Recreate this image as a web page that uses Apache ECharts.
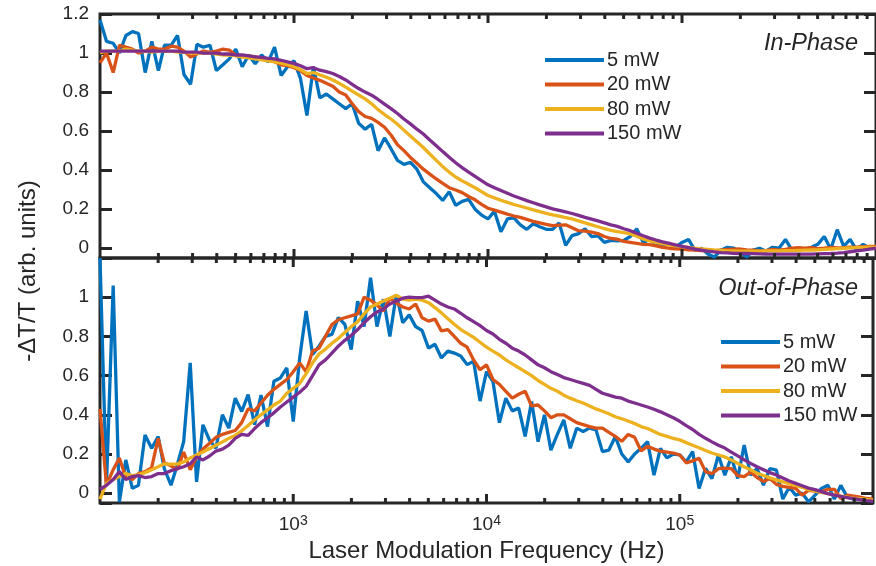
<!DOCTYPE html>
<html>
<head>
<meta charset="utf-8">
<script src="https://cdn.jsdelivr.net/npm/echarts@6/dist/echarts.min.js"></script>
<style>
  html, body { margin: 0; padding: 0; background: #ffffff; }
  #chart { width: 876px; height: 566px; }
</style>
</head>
<body>
<div id="chart"></div>
<script>
// Modulation frequencies (Hz), 30 points per decade from 1e2 to 1e6
const freqHz = [
  100, 108, 117, 126, 136, 147, 158, 171, 185, 200,
  215, 233, 251, 271, 293, 316, 341, 369, 398, 430,
  464, 501, 541, 584, 631, 681, 736, 794, 858, 926,
  1000, 1080, 1166, 1259, 1359, 1468, 1585, 1711, 1848, 1995,
  2154, 2326, 2512, 2712, 2929, 3162, 3415, 3687, 3981, 4299,
  4642, 5012, 5412, 5843, 6310, 6813, 7356, 7943, 8577, 9261,
  10000, 10798, 11659, 12589, 13594, 14678, 15849, 17113, 18478, 19953,
  21544, 23263, 25119, 27123, 29286, 31623, 34146, 36869, 39811, 42987,
  46416, 50119, 54117, 58434, 63096, 68129, 73564, 79433, 85770, 92611,
  100000, 107980, 116590, 125890, 135940, 146780, 158490, 171130, 184780, 199530,
  215440, 232630, 251190, 271230, 292860, 316230, 341460, 368690, 398110, 429870,
  464160, 501190, 541170, 584340, 630960, 681290, 735640, 794330, 857700, 926110,
  1000000
];

// In-phase response, -dT/T (arb. units)
const inPhase5 = [
  1.17, 1.06, 1.05, 1.0, 1.09, 1.11, 1.10, 0.90, 1.06, 0.91,
  1.04, 1.04, 1.09, 0.89, 0.84, 1.045, 1.03, 1.04, 0.91, 0.94,
  0.97, 1.02, 0.93, 0.99, 0.945, 0.99, 0.955, 1.03, 0.885, 0.93,
  0.96, 0.87, 0.68, 0.93, 0.77, 0.79, 0.765, 0.74, 0.715, 0.74,
  0.64, 0.61, 0.635, 0.50, 0.565, 0.51, 0.45, 0.43, 0.44, 0.405,
  0.34, 0.31, 0.28, 0.245, 0.29, 0.22, 0.24, 0.25, 0.20, 0.17,
  0.15, 0.19, 0.085, 0.15, 0.155, 0.12, 0.097, 0.125, 0.11, 0.097,
  0.097, 0.13, 0.015, 0.065, 0.075, 0.10, 0.06, 0.063, 0.03, 0.04,
  0.038, 0.04, 0.06, 0.10, 0.03, 0.045, 0.02, 0.01, 0.025, 0.005,
  0.03, 0.045, -0.01, 0.0, -0.03, -0.045, -0.01, 0.005, 0.0, -0.02,
  -0.045, -0.01, 0.0, -0.015, 0.005, 0.0, 0.045, -0.01, 0.0, -0.005,
  0.005, 0.02, 0.06, -0.005, 0.095, 0.01, 0.045, -0.01, 0.02, 0.0,
  0.01
];
const inPhase20 = [
  0.95, 1.0, 0.9, 1.04, 1.03, 1.02, 1.0, 1.01, 1.03, 1.02,
  1.02, 1.035, 1.03, 1.01, 0.98, 0.995, 1.01, 1.005, 1.01, 1.02,
  1.015, 0.99, 0.98, 0.985, 0.98, 0.975, 0.97, 0.955, 0.94, 0.935,
  0.925, 0.91, 0.885, 0.872, 0.86, 0.845, 0.83, 0.8, 0.785, 0.74,
  0.7, 0.675, 0.665, 0.645, 0.62, 0.58, 0.53, 0.5, 0.465, 0.435,
  0.405, 0.38, 0.355, 0.332, 0.31, 0.298, 0.285, 0.265, 0.248, 0.225,
  0.205, 0.195, 0.185, 0.175, 0.165, 0.158, 0.148, 0.138, 0.13, 0.122,
  0.116, 0.118, 0.12, 0.105, 0.09, 0.088, 0.082, 0.075, 0.06, 0.05,
  0.046, 0.035, 0.03, 0.025, 0.02, 0.018, 0.012, 0.005, 0.0, -0.003,
  -0.005, -0.008, -0.01, -0.012, -0.014, -0.014, -0.01, -0.006, -0.005, -0.004,
  -0.008, -0.01, -0.014, -0.012, -0.006, -0.01, -0.006, 0.0, 0.003, 0.0,
  0.003, -0.002, 0.0, 0.004, 0.002, 0.003, 0.006, 0.005, 0.008, 0.01,
  0.01
];
const inPhase80 = [
  1.0, 1.01, 1.01, 1.01, 1.02, 1.015, 1.01, 1.01, 1.005, 1.01,
  1.01, 1.01, 1.005, 1.005, 1.0, 1.0, 1.0, 1.0, 0.995, 0.99,
  0.99, 0.985, 0.98, 0.975, 0.97, 0.965, 0.96, 0.955, 0.948, 0.94,
  0.93, 0.915, 0.895, 0.9, 0.888, 0.876, 0.862, 0.845, 0.825, 0.805,
  0.785, 0.765, 0.74, 0.71, 0.685, 0.662, 0.635, 0.605, 0.575, 0.546,
  0.516, 0.483, 0.45, 0.418, 0.39, 0.365, 0.345, 0.328, 0.31, 0.29,
  0.27, 0.258, 0.246, 0.235, 0.224, 0.215, 0.206, 0.197, 0.188, 0.179,
  0.171, 0.164, 0.157, 0.15, 0.14, 0.13, 0.12, 0.11, 0.10, 0.092,
  0.085, 0.08, 0.073, 0.062, 0.048, 0.038, 0.03, 0.023, 0.017, 0.012,
  0.008, 0.004, 0.0, -0.003, -0.006, -0.009, -0.011, -0.013, -0.014, -0.015,
  -0.015, -0.015, -0.015, -0.014, -0.014, -0.013, -0.012, -0.012, -0.011, -0.01,
  -0.009, -0.008, -0.006, -0.004, -0.002, 0.0, 0.002, 0.003, 0.004, 0.005,
  0.005
];
const inPhase150 = [
  1.01, 1.01, 1.01, 1.01, 1.01, 1.01, 1.01, 1.01, 1.01, 1.01,
  1.01, 1.01, 1.01, 1.005, 1.005, 1.005, 1.0, 1.0, 1.0, 0.995,
  0.995, 0.99, 0.99, 0.985, 0.98, 0.978, 0.973, 0.97, 0.963, 0.955,
  0.947, 0.935, 0.92, 0.925, 0.912, 0.905, 0.895, 0.88, 0.862, 0.84,
  0.818, 0.80, 0.784, 0.762, 0.738, 0.715, 0.69, 0.662, 0.637, 0.61,
  0.585, 0.555, 0.525, 0.495, 0.466, 0.438, 0.413, 0.39, 0.368, 0.346,
  0.325, 0.31, 0.296, 0.282, 0.268, 0.256, 0.244, 0.233, 0.222, 0.212,
  0.202, 0.194, 0.186, 0.178, 0.168, 0.158, 0.149, 0.14, 0.13, 0.12,
  0.112, 0.10, 0.09, 0.077, 0.064, 0.052, 0.042, 0.033, 0.025, 0.017,
  0.01, 0.003, -0.004, -0.01, -0.015, -0.019, -0.022, -0.024, -0.026, -0.027,
  -0.027, -0.028, -0.029, -0.03, -0.03, -0.03, -0.03, -0.03, -0.03, -0.03,
  -0.03, -0.029, -0.028, -0.027, -0.025, -0.022, -0.018, -0.014, -0.01, -0.005,
  0.0
];

// Out-of-phase response, -dT/T (arb. units)
const outPhase5 = [
  1.2, 0.04, 1.06, -0.045, 0.17, 0.025, 0.04, 0.297, 0.229, 0.289,
  0.126, 0.041, 0.144, 0.263, 0.665, 0.058, 0.349, 0.27, 0.23, 0.40,
  0.332, 0.485, 0.417, 0.503, 0.35, 0.50, 0.34, 0.571, 0.588, 0.639,
  0.366, 0.691, 0.93, 0.708, 0.75, 0.80, 0.81, 0.896, 0.862, 0.733,
  0.98, 0.85, 1.1, 0.85, 0.99, 0.8, 1.015, 0.87, 0.91, 0.85,
  0.83, 0.74, 0.76, 0.69, 0.725, 0.715, 0.70, 0.656, 0.673, 0.47,
  0.62, 0.57, 0.36, 0.485, 0.42, 0.434, 0.29, 0.468, 0.263, 0.40,
  0.22, 0.30, 0.374, 0.229, 0.332, 0.315, 0.332, 0.323, 0.212, 0.22,
  0.289, 0.20, 0.16, 0.20, 0.229, 0.263, 0.092, 0.229, 0.18, 0.20,
  0.195, 0.16, 0.212, 0.024, 0.126, 0.075, 0.195, 0.092, 0.186, 0.075,
  0.246, 0.092, 0.126, 0.041, 0.126, 0.118, -0.03, 0.03, -0.01, 0.0,
  -0.044, -0.01, 0.024, 0.041, -0.03, 0.04, -0.02, -0.03, -0.03, -0.035,
  -0.04
];
const outPhase20 = [
  0.43, 0.04, 0.12, 0.18, 0.08, 0.07, 0.10, 0.11, 0.13, 0.28,
  0.155, 0.14, 0.12, 0.21, 0.12, 0.185, 0.225, 0.255, 0.285, 0.30,
  0.31, 0.32, 0.36, 0.43, 0.42, 0.46, 0.50, 0.53, 0.555, 0.58,
  0.62, 0.665, 0.62, 0.725, 0.74, 0.80, 0.86, 0.885, 0.895, 0.905,
  0.915, 1.0, 0.985, 0.96, 0.93, 0.995, 0.97, 0.95, 0.94, 0.965,
  0.895, 0.878, 0.888, 0.828, 0.835, 0.80, 0.765, 0.745, 0.68, 0.63,
  0.655, 0.58, 0.555, 0.52, 0.485, 0.505, 0.52, 0.445, 0.45, 0.42,
  0.385, 0.40, 0.40, 0.38, 0.36, 0.35, 0.34, 0.332, 0.332, 0.31,
  0.29, 0.265, 0.30, 0.285, 0.215, 0.24, 0.225, 0.215, 0.21, 0.205,
  0.195, 0.155, 0.165, 0.178, 0.11, 0.10, 0.125, 0.128, 0.125, 0.09,
  0.085, 0.108, 0.08, 0.06, 0.075, 0.045, 0.035, 0.03, 0.025, -0.01,
  0.015, 0.01, 0.007, 0.02, 0.02, -0.027, -0.01, -0.015, -0.02, -0.027,
  -0.03
];
const outPhase80 = [
  -0.03, 0.05, 0.07, 0.085, 0.10, 0.09, 0.095, 0.105, 0.12, 0.135,
  0.15, 0.148, 0.15, 0.16, 0.18, 0.195, 0.21, 0.228, 0.245, 0.262,
  0.28, 0.295, 0.318, 0.345, 0.375, 0.40, 0.425, 0.45, 0.47, 0.51,
  0.535, 0.56, 0.61, 0.665, 0.71, 0.735, 0.765, 0.79, 0.82, 0.85,
  0.875, 0.915, 0.95, 0.965, 0.98, 0.995, 1.01, 0.99, 0.985, 0.99,
  0.985, 0.972, 0.947, 0.92, 0.89, 0.862, 0.835, 0.815, 0.795, 0.77,
  0.745, 0.725, 0.705, 0.68, 0.66, 0.64, 0.62, 0.60, 0.575, 0.555,
  0.535, 0.52, 0.50, 0.485, 0.472, 0.46, 0.445, 0.43, 0.418, 0.405,
  0.39, 0.38, 0.368, 0.355, 0.34, 0.33, 0.315, 0.30, 0.29, 0.28,
  0.272, 0.258, 0.245, 0.232, 0.218, 0.205, 0.195, 0.185, 0.17, 0.152,
  0.135, 0.12, 0.102, 0.09, 0.078, 0.068, 0.058, 0.048, 0.04, 0.03,
  0.018, 0.01, 0.004, -0.002, -0.008, -0.015, -0.02, -0.025, -0.028, -0.032,
  -0.035
];
const outPhase150 = [
  0.02, 0.04, 0.07, 0.11, 0.07, 0.085, 0.09, 0.08, 0.085, 0.10,
  0.10, 0.115, 0.125, 0.135, 0.15, 0.185, 0.17, 0.19, 0.215, 0.225,
  0.245, 0.28, 0.30, 0.295, 0.33, 0.36, 0.385, 0.41, 0.44, 0.465,
  0.49, 0.515, 0.545, 0.60, 0.655, 0.68, 0.715, 0.75, 0.78, 0.805,
  0.835, 0.87, 0.90, 0.925, 0.94, 0.965, 0.98, 0.995, 1.0, 0.998,
  0.998, 1.005, 0.985, 0.965, 0.95, 0.94, 0.918, 0.895, 0.875, 0.855,
  0.83, 0.812, 0.785, 0.765, 0.74, 0.725, 0.705, 0.68, 0.655, 0.64,
  0.62, 0.605, 0.59, 0.58, 0.57, 0.56, 0.55, 0.53, 0.51, 0.50,
  0.49, 0.485, 0.47, 0.46, 0.45, 0.44, 0.428, 0.415, 0.40, 0.385,
  0.367, 0.345, 0.325, 0.30, 0.28, 0.262, 0.245, 0.23, 0.21, 0.19,
  0.17, 0.152, 0.135, 0.12, 0.105, 0.093, 0.078, 0.062, 0.05, 0.038,
  0.026, 0.018, 0.008, -0.002, -0.01, -0.016, -0.022, -0.028, -0.033, -0.038,
  -0.042
];

const powerLabels = ['5 mW', '20 mW', '80 mW', '150 mW'];
const panelLabels = ['In-Phase', 'Out-of-Phase'];
const axisTitleX = 'Laser Modulation Frequency (Hz)';
const axisTitleY = '-\u0394T/T (arb. units)';

// Minor/major tick frequencies for the log x axis
const tickDecades = [100, 1000, 10000, 100000];
const tickMultipliers = [1, 2, 3, 4, 5, 6, 7, 8, 9];

const lineColors = ['#0072BD', '#D95319', '#EDB120', '#7E2F8E'];
const ink = '#262626';
const fontFamily = '"Liberation Sans", Arial, Helvetica, sans-serif';

const inPhaseSets = [inPhase5, inPhase20, inPhase80, inPhase150];
const outPhaseSets = [outPhase5, outPhase20, outPhase80, outPhase150];

function toPairs(values) {
  return freqHz.map((f, i) => [f, values[i]]);
}

const xTickData = [];
tickDecades.forEach(d => {
  tickMultipliers.forEach(m => {
    if (d === 100 && m === 1) return; // left frame edge
    xTickData.push([d * m, 0, m === 1 ? 1 : 0]);
  });
});

function renderXTicks(params, api) {
  const cs = params.coordSys;
  const px = api.coord([api.value(0), 0])[0];
  const len = api.value(2) ? 9 : 5;
  const style = { stroke: ink, lineWidth: 3 };
  return {
    type: 'group',
    children: [
      { type: 'line', shape: { x1: px, y1: cs.y, x2: px, y2: cs.y + len }, style: style },
      { type: 'line', shape: { x1: px, y1: cs.y + cs.height, x2: px, y2: cs.y + cs.height - len }, style: style }
    ]
  };
}

const grids = [
  { left: 100, top: 14, width: 780, height: 244 },
  { left: 100, top: 258, width: 780, height: 245 }
].map(g => Object.assign(g, {
  show: true, borderColor: ink, borderWidth: 3, backgroundColor: 'transparent', containLabel: false
}));

function xAxisFor(gridIndex, withLabels) {
  return {
    type: 'log', logBase: 10, gridIndex: gridIndex, min: 100, max: 1000000,
    axisLine: { show: false }, axisTick: { show: false }, splitLine: { show: false },
    axisLabel: withLabels ? {
      show: true, margin: 11, color: ink,
      formatter: v => {
        const e = Math.round(Math.log10(v));
        if (e <= 2 || e >= 6) return '';
        return '{b|10}{s|' + e + '}';
      },
      rich: {
        b: { fontSize: 19, fontFamily: fontFamily, color: ink, lineHeight: 20, verticalAlign: 'bottom' },
        s: { fontSize: 14, fontFamily: fontFamily, color: ink, lineHeight: 18, verticalAlign: 'top' }
      }
    } : { show: false },
    name: withLabels ? axisTitleX : '',
    nameLocation: 'middle', nameGap: 36,
    nameTextStyle: { fontSize: 24, fontFamily: fontFamily, color: ink }
  };
}

function yAxisFor(gridIndex, side, hideTop) {
  const left = side === 'left';
  return {
    type: 'value', gridIndex: gridIndex, position: side, min: -0.05, max: 1.2, splitNumber: 6,
    axisLine: { show: false }, splitLine: { show: false },
    axisTick: { show: true, inside: true, length: 12, lineStyle: { color: ink, width: 3 } },
    axisLabel: left ? {
      show: true, margin: 11, color: ink, fontSize: 19, fontFamily: fontFamily,
      formatter: v => {
        if (v < -0.001) return '';
        if (hideTop && v > 1.1) return '';
        return String(Math.round(v * 10) / 10);
      }
    } : { show: false }
  };
}

const series = [];
[inPhaseSets, outPhaseSets].forEach((sets, p) => {
  sets.forEach((vals, k) => {
    series.push({
      type: 'line', name: powerLabels[k], xAxisIndex: p, yAxisIndex: p * 2,
      data: toPairs(vals), showSymbol: false, symbol: 'none', smooth: false,
      lineStyle: { width: 3.3, color: lineColors[k] }, itemStyle: { color: lineColors[k] },
      emphasis: { disabled: true }, animation: false, z: 2 + k * 0.01
    });
  });
  series.push({
    type: 'custom', xAxisIndex: p, yAxisIndex: p * 2, data: xTickData,
    encode: { x: 0, y: 1 }, renderItem: renderXTicks, silent: true, animation: false, z: 5
  });
});

function legendAt(left, top) {
  return {
    data: powerLabels, orient: 'vertical', left: left, top: top, padding: 0,
    icon: 'rect', itemWidth: 59, itemHeight: 4, itemGap: 4.5,
    textStyle: { fontSize: 20, fontFamily: fontFamily, color: ink, lineHeight: 20, padding: [0, 0, 0, -2] },
    selectedMode: false
  };
}

const option = {
  backgroundColor: '#ffffff',
  animation: false,
  grid: grids,
  xAxis: [xAxisFor(0, false), xAxisFor(1, true)],
  yAxis: [yAxisFor(0, 'left', false), yAxisFor(0, 'right', false), yAxisFor(1, 'left', true), yAxisFor(1, 'right', true)],
  legend: [legendAt(545, 50), legendAt(721, 332)],
  graphic: [
    { type: 'text', x: 858, y: 43.5, style: { text: panelLabels[0], font: 'italic 23.5px ' + fontFamily, fill: ink, textAlign: 'right', textVerticalAlign: 'middle' } },
    { type: 'text', x: 858, y: 288.5, style: { text: panelLabels[1], font: 'italic 23.5px ' + fontFamily, fill: ink, textAlign: 'right', textVerticalAlign: 'middle' } },
    { type: 'text', x: 28, y: 271, rotation: Math.PI / 2, style: { text: axisTitleY, font: '24px ' + fontFamily, fill: ink, textAlign: 'center', textVerticalAlign: 'middle' } }
  ],
  series: series
};

const chart = echarts.init(document.getElementById('chart'), null, { renderer: 'canvas' });
chart.setOption(option);
</script>
</body>
</html>
